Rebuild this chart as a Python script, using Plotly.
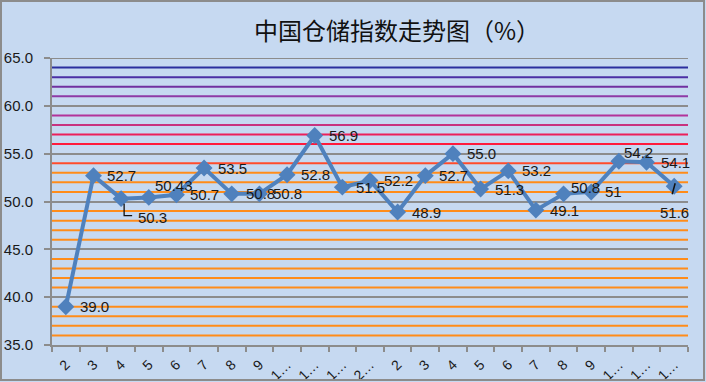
import plotly.graph_objects as go

# ---- data ----
months = ["2", "3", "4", "5", "6", "7", "8", "9", "1…", "1…", "1…", "2…",
          "2", "3", "4", "5", "6", "7", "8", "9", "1…", "1…", "1…"]
values = [39.0, 52.7, 50.3, 50.43, 50.7, 53.5, 50.8, 50.8, 52.8, 56.9, 51.5, 52.2,
          48.9, 52.7, 55.0, 51.3, 53.2, 49.1, 50.8, 51, 54.2, 54.1, 51.6]
value_labels = ["39.0", "52.7", "50.3", "50.43", "50.7", "53.5", "50.8", "50.8", "52.8",
                "56.9", "51.5", "52.2", "48.9", "52.7", "55.0", "51.3", "53.2", "49.1",
                "50.8", "51", "54.2", "54.1", "51.6"]
y_ticks = [35, 40, 45, 50, 55, 60, 65]
band_levels = [36, 37, 38, 39, 41, 42, 43, 44, 46, 47, 48, 49, 51, 52, 53,
               54, 56, 57, 58, 59, 61, 62, 63, 64]

# ---- styles ----
BG = "#C6D9F1"
LINE = "#4F81BD"
GRAY = "#8C8C8C"
FONT = "Liberation Sans"
band_colors = {54: "#FF4B2B", 56: "#FF1A3C", 57: "#EC1F5A", 58: "#C8327F",
               59: "#B2339A", 61: "#8E3AA6", 62: "#7030A0", 63: "#4B2FA5", 64: "#2B2F9E"}
ORANGE = "#FF8C1A"
# label offsets in pixels (dx, dy) for displaced labels
special = {2: (31, -19), 3: (25, 12), 18: (22, 6), 20: (20, 9), 22: (0, -26)}

x = list(range(len(values)))

fig = go.Figure()
fig.add_trace(go.Scatter(
    x=x, y=values, mode="lines+markers",
    line=dict(color=LINE, width=4),
    marker=dict(symbol="diamond", size=13, color=LINE),
    hoverinfo="skip", showlegend=False,
))

shapes = []
for lv in band_levels:
    shapes.append(dict(type="line", xref="paper", x0=0, x1=1, yref="y", y0=lv, y1=lv,
                       line=dict(color=band_colors.get(lv, ORANGE), width=2), layer="below"))
# top gridline
shapes.append(dict(type="line", xref="paper", x0=0, x1=1, yref="y", y0=65, y1=65,
                   line=dict(color=GRAY, width=2), layer="below"))
# leader lines
shapes.append(dict(type="path", xref="x", yref="y", xsizemode="pixel", ysizemode="pixel",
                   xanchor=x[2], yanchor=values[2],
                   path="M 3,-5 L 3,-17 L 11,-17", line=dict(color="#111111", width=1.3)))
shapes.append(dict(type="path", xref="x", yref="y", xsizemode="pixel", ysizemode="pixel",
                   xanchor=x[22], yanchor=values[22],
                   path="M 1,3 L -2,-8", line=dict(color="#111111", width=1.5)))
# figure border
shapes.append(dict(type="rect", xref="paper", yref="paper",
                   x0=-51 / 636, x1=1 + 16 / 636, y0=-35 / 287, y1=1 + 57 / 287,
                   line=dict(color=GRAY, width=2), fillcolor="rgba(0,0,0,0)"))

annotations = []
for i, (xi, v, t) in enumerate(zip(x, values, value_labels)):
    if i in special:
        dx, dy = special[i]
        annotations.append(dict(x=xi, y=v, text=t, showarrow=False, xanchor="center",
                                yanchor="middle", xshift=dx, yshift=dy,
                                font=dict(family=FONT, size=15, color="#1A1A1A")))
    else:
        annotations.append(dict(x=xi, y=v, text=t, showarrow=False, xanchor="left",
                                yanchor="middle", xshift=12, yshift=0,
                                font=dict(family=FONT, size=15, color="#1A1A1A")))

fig.update_layout(
    width=706, height=382,
    margin=dict(l=52, r=18, t=58, b=37),
    paper_bgcolor=BG, plot_bgcolor=BG,
    title=dict(text="中国仓储指数走势图（%）", x=383 / 706, xref="paper", xanchor="center",
               y=1 - 32 / 382, yanchor="middle",
               font=dict(family="Noto Sans CJK SC", size=24, color="#111111")),
    shapes=shapes, annotations=annotations,
    xaxis=dict(range=[-0.5, len(values) - 0.5], tickmode="array", tickvals=x,
               ticktext=months, tickangle=-45, ticks="", showgrid=False,
               showline=True, linecolor=GRAY, linewidth=2, zeroline=False,
               ticklabelstandoff=4,
               tickfont=dict(family=FONT, size=14, color="#1A1A1A"),
               minor=dict(tickmode="array", tickvals=[i - 0.5 for i in range(len(values) + 1)],
                          ticks="outside", ticklen=5, tickcolor=GRAY, tickwidth=1.5),
               automargin=False, fixedrange=True),
    yaxis=dict(range=[35, 65], tickmode="array", tickvals=y_ticks,
               ticktext=[f"{v:.1f}" for v in y_ticks], ticks="outside", ticklen=6,
               tickcolor=GRAY, tickwidth=2, ticklabelstandoff=8,
               showgrid=True, gridcolor=GRAY, gridwidth=2,
               showline=True, linecolor=GRAY, linewidth=2, zeroline=False,
               tickfont=dict(family=FONT, size=15, color="#1A1A1A"),
               automargin=False, fixedrange=True),
)

fig.write_html("out.html", config={"displayModeBar": False},
               post_script="document.body.style.margin='0';document.body.style.overflow='hidden';")
